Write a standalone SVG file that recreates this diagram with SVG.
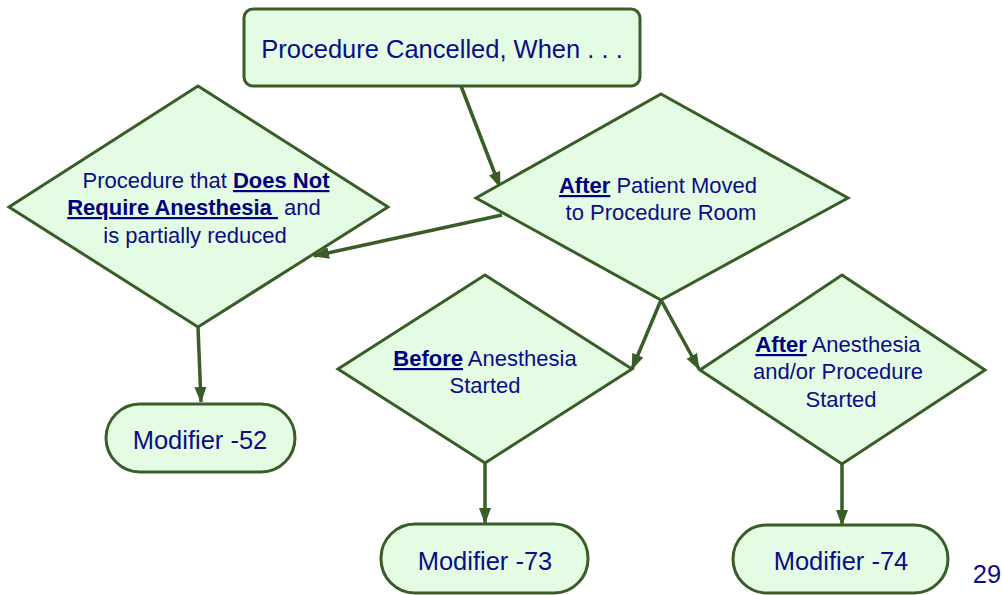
<svg xmlns="http://www.w3.org/2000/svg" width="1002" height="595" viewBox="0 0 1002 595">
<style>
.shape{fill:#e3fce3;stroke:#385d27;stroke-width:3;stroke-linejoin:miter}
.conn{fill:none;stroke:#385d27;stroke-width:3.5}
.t{font-family:"Liberation Sans",Arial,sans-serif;fill:#0c0c88;text-anchor:middle}
.big{font-size:25.5px}
.mid{font-size:22px}
.b{font-weight:bold;fill:#000080;text-decoration:underline}
</style>
<defs>
<marker id="arr" markerUnits="userSpaceOnUse" markerWidth="16" markerHeight="14" refX="15" refY="7" orient="auto">
<path d="M0,1 L16,7 L0,13 Z" fill="#385d27"/>
</marker>
</defs>
<rect width="1002" height="595" fill="#ffffff"/>
<g id="connectors">
<path class="conn" d="M461,86 L500,187" marker-end="url(#arr)"/>
<path class="conn" d="M502,215 L314,256" marker-end="url(#arr)"/>
<path class="conn" d="M198,327 L201,402" marker-end="url(#arr)"/>
<path class="conn" d="M661,300 L632,369" marker-end="url(#arr)"/>
<path class="conn" d="M661,300 L699,369" marker-end="url(#arr)"/>
<path class="conn" d="M485,463 L485,523" marker-end="url(#arr)"/>
<path class="conn" d="M842,464 L842,525" marker-end="url(#arr)"/>
</g>
<g id="start">
<rect class="shape" x="244" y="9" width="396" height="77" rx="9"/>
<text class="t big" x="442" y="58">Procedure Cancelled, When . . .</text>
</g>
<g id="noAnesthesia">
<polygon class="shape" points="198,86 388,207 198,327 9,207"/>
<text class="t mid" x="206" y="188">Procedure that <tspan class="b">Does Not</tspan></text>
<text class="t mid" x="194" y="215"><tspan class="b">Require Anesthesia&#160;</tspan>&#160;and</text>
<text class="t mid" x="195" y="243">is partially reduced</text>
</g>
<g id="afterMoved">
<polygon class="shape" points="661,94 848,198 661,300 476,198"/>
<text class="t mid" x="658" y="193"><tspan class="b">After</tspan> Patient Moved</text>
<text class="t mid" x="661" y="220">to Procedure Room</text>
</g>
<g id="beforeAnesthesia">
<polygon class="shape" points="485,275 632,369 485,463 338,369"/>
<text class="t mid" x="485" y="366"><tspan class="b">Before</tspan> Anesthesia</text>
<text class="t mid" x="485" y="393">Started</text>
</g>
<g id="afterAnesthesia">
<polygon class="shape" points="842,275 985,370 842,464 700,370"/>
<text class="t mid" x="838" y="352"><tspan class="b">After</tspan> Anesthesia</text>
<text class="t mid" x="838" y="379">and/or Procedure</text>
<text class="t mid" x="841" y="407">Started</text>
</g>
<g id="mod52">
<rect class="shape" x="106" y="404" width="189" height="68" rx="34"/>
<text class="t big" x="200" y="449">Modifier -52</text>
</g>
<g id="mod73">
<rect class="shape" x="381" y="524" width="207" height="69" rx="34"/>
<text class="t big" x="485" y="570">Modifier -73</text>
</g>
<g id="mod74">
<rect class="shape" x="733" y="525" width="215" height="68" rx="34"/>
<text class="t big" x="841" y="570">Modifier -74</text>
</g>
<text class="t big" x="987" y="583">29</text>
</svg>
